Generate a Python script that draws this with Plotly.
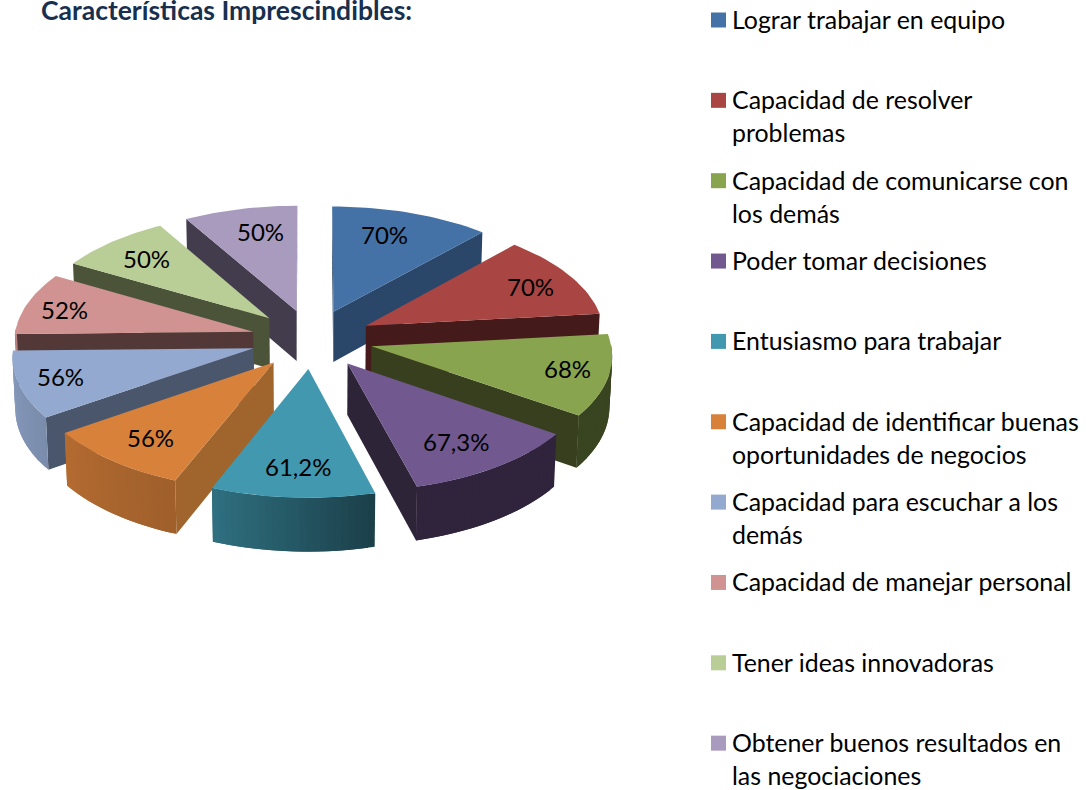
import math
import plotly.graph_objects as go

categories = ["Lograr trabajar en equipo", "Capacidad de resolver<br>problemas",
              "Capacidad de comunicarse con<br>los demás", "Poder tomar decisiones",
              "Entusiasmo para trabajar", "Capacidad de identificar buenas<br>oportunidades de negocios",
              "Capacidad para escuchar a los<br>demás", "Capacidad de manejar personal",
              "Tener ideas innovadoras", "Obtener buenos resultados en<br>las negociaciones"]
values = [70, 70, 68, 67.3, 61.2, 56, 56, 52, 50, 50]
value_labels = ["70%", "70%", "68%", "67,3%", "61,2%", "56%", "56%", "52%", "50%", "50%"]
top_colors = ["#4471A6", "#A94543", "#89A44E", "#71588F", "#4198AF", "#D8813B", "#93A9CF", "#D09392", "#B9CD96", "#A99BBD"]
face_colors = ["#2A4769", "#451A1A", "#373F1E", "#2E2438", "#1F4A56", "#A0652C", "#4A566B", "#533838", "#4B5339", "#423C4D"]

FONT = "Lato"
CX, CY = 312, 339
SCALE = 239
TILT = math.asin(0.485)
DIST = 13
EXPLODE = 0.255
HEIGHT = 0.245
LABEL_NUDGE = [-10, 7, 14, -5, 2, 0, -13, -14, 0, 8]


def project(X, Y, Z):
    w = 1 + (Y * math.cos(TILT) - Z * math.sin(TILT)) / DIST
    return (CX + SCALE * X / w, CY - SCALE * (Y * math.sin(TILT) + Z * math.cos(TILT)) / w)


def polar(th, r, ox, oy):
    return ox + r * math.sin(th), oy + r * math.cos(th)


def mix(c, m):
    r, g, b = int(c[1:3], 16), int(c[3:5], 16), int(c[5:7], 16)
    return "rgb(%d,%d,%d)" % (r * m, g * m, b * m)


def side_mult(deg):
    if deg <= 165:
        return 0.42
    if deg <= 202:
        return 0.42 + (deg - 165) / 37 * 0.32
    return min(0.9, 0.74 + (deg - 202) / 58 * 0.16)


fig = go.Figure()


def poly(pts, color):
    fig.add_trace(go.Scatter(x=[p[0] for p in pts] + [pts[0][0]], y=[p[1] for p in pts] + [pts[0][1]],
                             mode="lines", fill="toself", fillcolor=color,
                             line=dict(color=color, width=0), hoverinfo="skip", showlegend=False))


total = sum(values)
slices = []
acc = 0
for i, v in enumerate(values):
    a0 = acc / total * 2 * math.pi
    acc += v
    a1 = acc / total * 2 * math.pi
    mid = (a0 + a1) / 2
    slices.append((i, a0, a1, mid, EXPLODE * math.sin(mid), EXPLODE * math.cos(mid)))

N_SEG = 24
for i, a0, a1, mid, ox, oy in sorted(slices, key=lambda s: -s[5]):
    # radial faces that face the viewer (camera is towards -Y and above)
    for edge, sign in ((a0, -1), (a1, 1)):
        nx, ny = sign * math.cos(edge), -sign * math.sin(edge)
        if nx * (0 - ox) + ny * (-DIST * math.cos(TILT) - oy) > 0:
            px, py = polar(edge, 1, ox, oy)
            poly([project(ox, oy, 0), project(px, py, 0), project(px, py, -HEIGHT), project(ox, oy, -HEIGHT)],
                 face_colors[i])
    # outer rim, shaded strip by strip; every strip overlaps the next to hide seams
    step = (a1 - a0) / N_SEG
    for k in range(N_SEG):
        t0 = a0 + step * k
        t1 = min(a1, t0 + step * 2)
        tm = t0 + step / 2
        if math.cos(tm) < 0.02:
            p0, p1 = polar(t0, 1, ox, oy), polar(t1, 1, ox, oy)
            poly([project(*p0, 0), project(*p1, 0), project(*p1, -HEIGHT), project(*p0, -HEIGHT)],
                 mix(top_colors[i], side_mult(math.degrees(tm))))
    # top surface
    pts = [project(ox, oy, 0)]
    for k in range(N_SEG + 1):
        pts.append(project(*polar(a0 + step * k, 1, ox, oy), 0))
    poly(pts, top_colors[i])

annotations = []
lx, ly = [], []
for i, a0, a1, mid, ox, oy in slices:
    px, py = project(*polar(mid, 0.77, ox, oy), 0)
    annotations.append(dict(x=px + LABEL_NUDGE[i], y=py, text=value_labels[i], showarrow=False,
                            xanchor="center", yanchor="middle",
                            font=dict(family=FONT, size=24, color="#000000")))
    y0 = 20 + 80.35 * i
    lx.append(718.5)
    ly.append(y0)
    for j, line in enumerate(categories[i].split("<br>")):
        annotations.append(dict(x=730, y=y0 - 1 + j * 33, text=line, showarrow=False, xanchor="left", yanchor="middle",
                                font=dict(family=FONT, size=24.9, color="#000000")))

fig.add_trace(go.Scatter(x=lx, y=ly, mode="markers", hoverinfo="skip", showlegend=False,
                         marker=dict(symbol="square", size=15, color=top_colors, line=dict(width=0))))
annotations.append(dict(x=39, y=10, text="<b>Características Imprescindibles:</b>", showarrow=False,
                        xanchor="left", yanchor="middle", font=dict(family=FONT, size=26.5, color="#17304F")))

fig.update_layout(width=1086, height=790, margin=dict(l=0, r=0, t=0, b=0), plot_bgcolor="white", paper_bgcolor="white",
                  showlegend=False, annotations=annotations,
                  xaxis=dict(range=[0, 1086], visible=False, fixedrange=True),
                  yaxis=dict(range=[790, 0], visible=False, fixedrange=True))
fig.write_html("out.html", config={"displayModeBar": False},
               post_script="document.body.style.margin='0';document.body.style.overflow='hidden';")
